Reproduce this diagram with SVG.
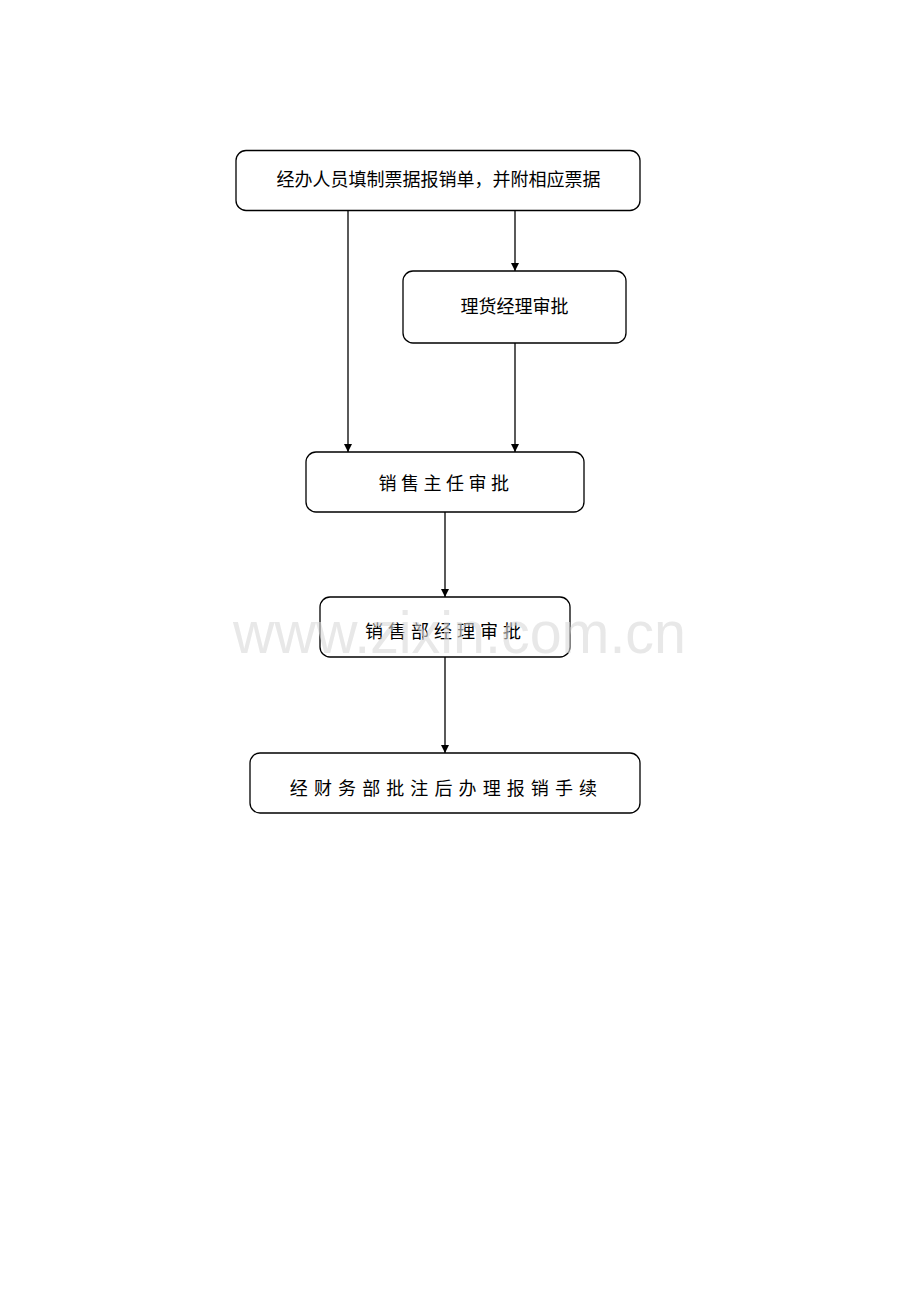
<svg xmlns="http://www.w3.org/2000/svg" width="920" height="1302" viewBox="0 0 920 1302">
<style>
.box{fill:#fff;stroke:#000;stroke-width:1.3}
.t{font-family:"Liberation Serif","Noto Sans CJK SC",serif;font-size:18px;fill:#000;text-anchor:middle;dominant-baseline:central}
.c{stroke:#000;stroke-width:1.3;fill:none;marker-end:url(#ah)}
.wm{font-family:"Liberation Sans",Arial,sans-serif;font-size:60px;fill:#d9d9d9;fill-opacity:0.6}
</style>
<defs>
<marker id="ah" viewBox="0 0 10 10" refX="10" refY="5" markerWidth="8" markerHeight="8" markerUnits="userSpaceOnUse" orient="auto">
<path d="M0,0 L10,5 L0,10 z" fill="#000"/>
</marker>
</defs>
<rect width="920" height="1302" fill="#fff"/>
<g id="connectors">
<line class="c" x1="348" y1="211" x2="348" y2="452"/>
<line class="c" x1="515" y1="211" x2="515" y2="271"/>
<line class="c" x1="515" y1="343" x2="515" y2="452"/>
<line class="c" x1="445" y1="512" x2="445" y2="597"/>
<line class="c" x1="445" y1="657" x2="445" y2="753"/>
</g>
<g id="n1">
<rect class="box" x="236" y="150.5" width="404" height="60" rx="10"/>
<text class="t" x="438.5" y="180">经办人员填制票据报销单，并附相应票据</text>
</g>
<g id="n2">
<rect class="box" x="403" y="271" width="223" height="72" rx="10"/>
<text class="t" x="514.5" y="307">理货经理审批</text>
</g>
<g id="n3">
<rect class="box" x="306" y="452" width="278" height="60" rx="10"/>
<text class="t" x="446" y="484" letter-spacing="4.5">销售主任审批</text>
</g>
<g id="n4">
<rect class="box" x="320" y="597" width="250" height="60" rx="10"/>
<text class="t" x="445.5" y="632" letter-spacing="5">销售部经理审批</text>
</g>
<g id="n5">
<rect class="box" x="250" y="753" width="390" height="60" rx="10"/>
<text class="t" x="446.5" y="789" letter-spacing="6.1">经财务部批注后办理报销手续</text>
</g>
<text class="wm" x="233" y="653" textLength="453" lengthAdjust="spacingAndGlyphs">www.zixin.com.cn</text>
</svg>
